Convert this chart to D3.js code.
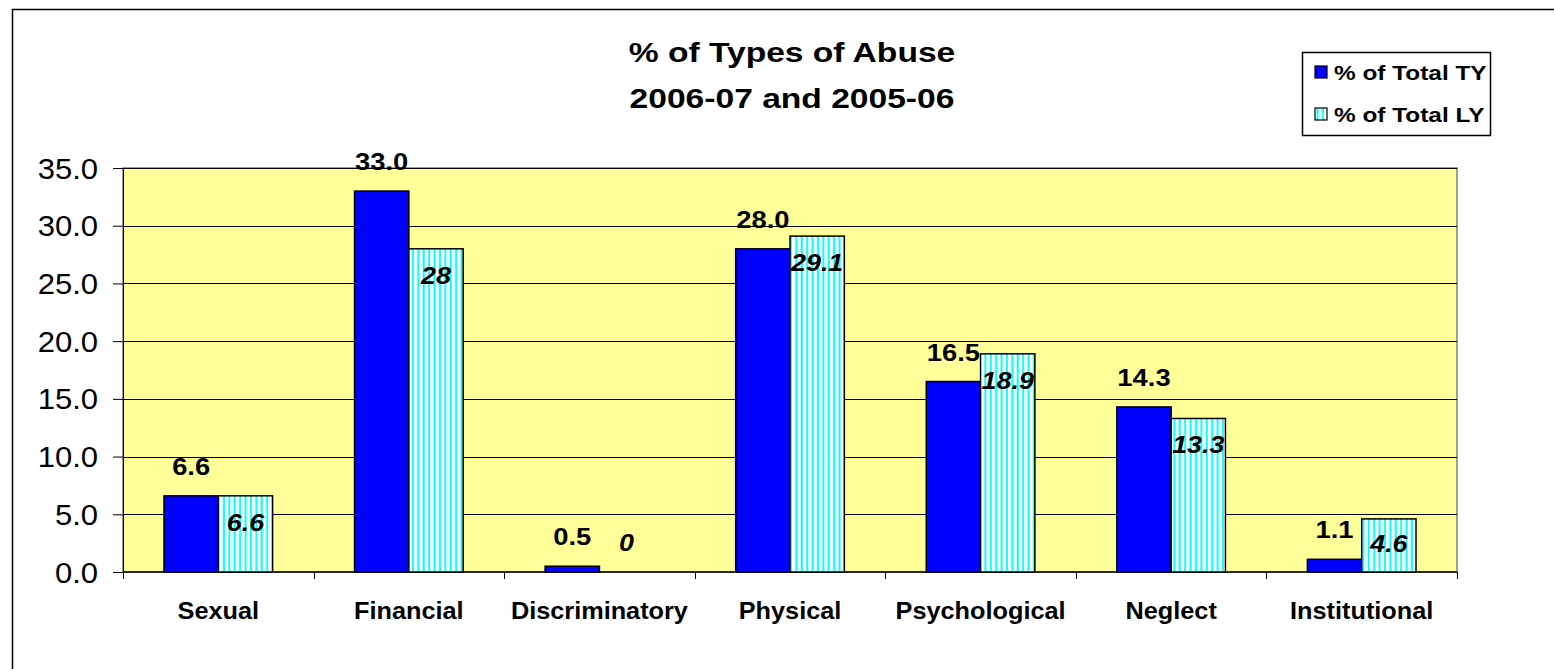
<!DOCTYPE html>
<html><head><meta charset="utf-8">
<script src="https://cdn.jsdelivr.net/npm/d3@7"></script>
<style>body{margin:0;background:#fff;} text{font-family:"Liberation Sans",Arial,sans-serif;}</style>
</head><body>
<svg id="c" width="1554" height="669"></svg>
<script>
const categories = ["Sexual","Financial","Discriminatory","Physical","Psychological","Neglect","Institutional"];
const seriesNames = ["% of Total TY","% of Total LY"];
const totalTY = [6.6, 33.0, 0.5, 28.0, 16.5, 14.3, 1.1];
const totalLY = [6.6, 28, 0, 29.1, 18.9, 13.3, 4.6];
const labelsTY = ["6.6","33.0","0.5","28.0","16.5","14.3","1.1"];
const labelsLY = ["6.6","28","0","29.1","18.9","13.3","4.6"];
const yTicks = [0,5,10,15,20,25,30,35];
const titleLines = ["% of Types of Abuse","2006-07 and 2005-06"];

const svg = d3.select("#c");
const L = 123, R = 1457, T = 168, B = 572;
const place = (x,y,s) => `translate(${x},${y}) scale(${s},1)`;

const defs = svg.append("defs");
const pat = defs.append("pattern").attr("id","stripe").attr("patternUnits","userSpaceOnUse")
  .attr("width",5.4).attr("height",10);
pat.append("rect").attr("width",5.4).attr("height",10).attr("fill","#fff");
pat.append("rect").attr("x",1.5).attr("width",2).attr("height",10).attr("fill","#00ffff");

// outer border
svg.append("rect").attr("x",12.5).attr("y",9.5).attr("width",1600).attr("height",700)
  .attr("fill","#fff").attr("stroke","#000").attr("stroke-width",1.5);

const y = d3.scaleLinear().domain([0,35]).range([B,T]);
const x0 = d3.scaleBand().domain(categories).range([L,R]).paddingInner(0.43).paddingOuter(0.215);
const x1 = d3.scaleBand().domain(seriesNames).range([0,x0.bandwidth()]);

// plot area
svg.append("rect").attr("x",L).attr("y",T).attr("width",R-L).attr("height",B-T)
  .attr("fill","#ffff99").attr("stroke","#808080").attr("stroke-width",1.5);

// gridlines
svg.append("g").selectAll("line").data(yTicks.filter(d=>d>0)).join("line")
  .attr("x1",L).attr("x2",R).attr("y1",d=>Math.round(y(d))+0.5).attr("y2",d=>Math.round(y(d))+0.5)
  .attr("stroke","#000").attr("stroke-width",1);

// y axis
const ya = svg.append("g").attr("transform",`translate(${L},0)`)
  .call(d3.axisLeft(y).tickValues(yTicks).tickFormat(d3.format(".1f")).tickSize(10).tickPadding(14));
ya.select(".domain").attr("stroke","#000");
ya.selectAll("line").attr("stroke","#000");
ya.selectAll("text").attr("font-size",29).attr("fill","#000").style("font-family","Liberation Sans, Arial")
  .attr("x",null).attr("dy",null).attr("y",null)
  .attr("transform",place(-25,10,1.07));

// x axis
const xa = svg.append("g").attr("transform",`translate(0,${B})`);
xa.append("line").attr("x1",L).attr("x2",R).attr("y1",0).attr("y2",0).attr("stroke","#000").attr("stroke-width",1.5);
const bounds = categories.map((c,i)=> x0(c) - x0.step()*x0.paddingInner()/2).concat([R]);
bounds[0] = L;
xa.selectAll("line.tk").data(bounds).join("line").attr("class","tk")
  .attr("x1",d=>Math.round(d)+0.5).attr("x2",d=>Math.round(d)+0.5).attr("y1",0).attr("y2",7).attr("stroke","#000");
xa.selectAll("text").data(categories).join("text")
  .attr("transform",d=>place(x0(d)+x0.bandwidth()/2,47,1.1)).attr("text-anchor","middle")
  .attr("font-weight","bold").attr("font-size",23).text(d=>d);

// bars
const data = categories.map((c,i)=>({c, ty: totalTY[i], ly: totalLY[i], lt: labelsTY[i], ll: labelsLY[i]}));
const g = svg.append("g");
g.selectAll("rect.ty").data(data).join("rect").attr("class","ty")
  .attr("x",d=>x0(d.c)+x1(seriesNames[0])).attr("width",x1.bandwidth())
  .attr("y",d=>y(d.ty)).attr("height",d=>B-y(d.ty))
  .attr("fill","#0000ff").attr("stroke","#000").attr("stroke-width",1.5);
g.selectAll("rect.ly").data(data.filter(d=>d.ly>0)).join("rect").attr("class","ly")
  .attr("x",d=>x0(d.c)+x1(seriesNames[1])).attr("width",x1.bandwidth())
  .attr("y",d=>y(d.ly)).attr("height",d=>B-y(d.ly))
  .attr("fill","url(#stripe)").attr("stroke","#000").attr("stroke-width",1.5);

// labels
g.selectAll("text.lty").data(data).join("text").attr("class","lty")
  .attr("transform",d=>place(x0(d.c)+x1(seriesNames[0])+x1.bandwidth()/2, y(d.ty)-21, 1.14))
  .attr("text-anchor","middle").attr("font-weight","bold").attr("font-size",24).text(d=>d.lt);
g.selectAll("text.lly").data(data).join("text").attr("class","lly")
  .attr("transform",d=>{const t=y(d.ly); const yy = d.ly===0 ? t-21 : Math.min(t+35, B-20);
     return place(x0(d.c)+x1(seriesNames[1])+x1.bandwidth()/2, yy, 1.12);})
  .attr("text-anchor","middle").attr("font-weight","bold").attr("font-style","italic").attr("font-size",24).text(d=>d.ll);

// title
svg.append("g").selectAll("text").data(titleLines).join("text")
  .attr("transform",(d,i)=>place(792,62+i*46,1.2)).attr("text-anchor","middle")
  .attr("font-weight","bold").attr("font-size",28).text(d=>d);

// legend
const lg = svg.append("g");
lg.append("rect").attr("x",1302.5).attr("y",52.5).attr("width",188).attr("height",83)
  .attr("fill","#fff").attr("stroke","#000").attr("stroke-width",1.5);
const items = lg.selectAll("g").data(seriesNames).join("g")
  .attr("transform",(d,i)=>`translate(1315,${66+i*42})`);
items.append("rect").attr("width",12).attr("height",12)
  .attr("fill",(d,i)=>i===0?"#0000ff":"url(#stripe)").attr("stroke","#000").attr("stroke-width",1.2);
items.append("text").attr("transform",place(19,14,1.22)).attr("font-weight","bold").attr("font-size",20).text(d=>d);
</script>
</body></html>
